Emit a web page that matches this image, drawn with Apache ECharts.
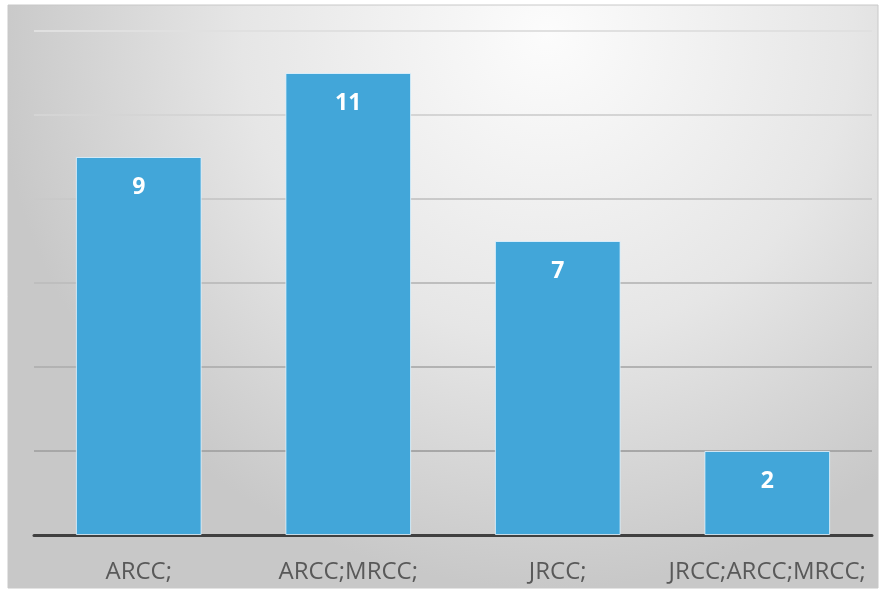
<!DOCTYPE html>
<html><head><meta charset="utf-8">
<script src="https://cdn.jsdelivr.net/npm/echarts@6/dist/echarts.min.js"></script>
<style>html,body{margin:0;padding:0;background:#fff;}#c{width:888px;height:589px;}</style>
</head><body><div id="c"></div>
<script>
const categories = ['ARCC;', 'ARCC;MRCC;', 'JRCC;', 'JRCC;ARCC;MRCC;'];
const values = [9, 11, 7, 2];
const chart = echarts.init(document.getElementById('c'), null, {renderer: 'canvas'});
chart.setOption({
  animation: false,
  graphic: [{
    type: 'rect', z: -10, silent: true,
    shape: {x: 8, y: 5, width: 870, height: 583},
    style: {
      fill: {type: 'radial', x: 0.62, y: 0.05, r: 0.95,
        colorStops: [{offset: 0, color: '#fcfcfc'}, {offset: 0.55, color: '#e6e6e6'}, {offset: 1, color: '#c8c8c8'}]},
      stroke: '#c8c8c8', lineWidth: 1
    }
  }],
  grid: {left: 34, right: 16, top: 31, bottom: 54},
  xAxis: {
    type: 'category', data: categories,
    axisLine: {lineStyle: {color: '#404040', width: 3}},
    axisTick: {show: false},
    axisLabel: {interval: 0, color: '#595959', fontSize: 24, fontFamily: 'Open Sans', margin: 25, overflow: 'none', width: 300}
  },
  yAxis: {
    type: 'value', min: 0, max: 12, interval: 2,
    axisLabel: {show: false}, axisLine: {show: false}, axisTick: {show: false},
    splitLine: {lineStyle: {width: 2, color: {type: 'linear', x: 0, y: 31, x2: 0, y2: 535, global: true,
      colorStops: [{offset: 0, color: '#e0e0e0'}, {offset: 1, color: '#9c9c9c'}]}}}
  },
  series: [{
    type: 'bar', data: values, barCategoryGap: '40%',
    itemStyle: {color: '#42a6d9', borderColor: 'rgba(230,245,255,0.8)', borderWidth: 1},
    label: {show: true, position: 'insideTop', distance: 19, color: '#fff', fontSize: 23, fontWeight: 'bold', fontFamily: 'Open Sans'}
  }]
});
</script></body></html>
